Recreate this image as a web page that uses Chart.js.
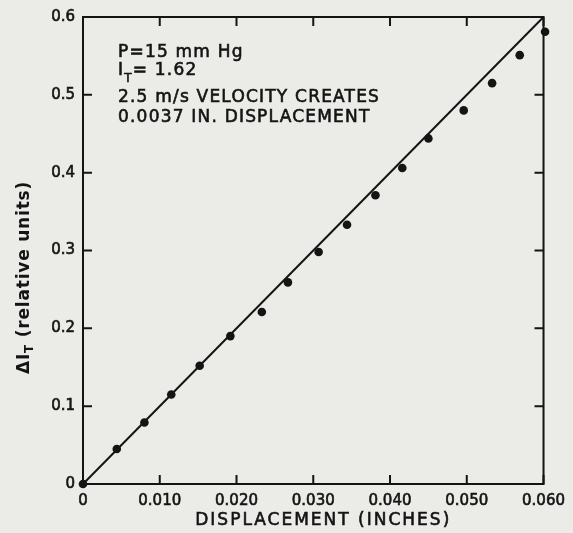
<!DOCTYPE html>
<html>
<head>
<meta charset="utf-8">
<script src="https://cdn.jsdelivr.net/npm/chart.js@4"></script>
<style>
  html, body { margin: 0; padding: 0; background: #ebebe8; }
  #wrap { width: 573px; height: 533px; }
</style>
</head>
<body>
<div id="wrap"><canvas id="c" width="573" height="533"></canvas></div>
<script>
// ---- data ----
const displacement = [0, 0.0044, 0.0080, 0.0115, 0.0152, 0.0192, 0.0233, 0.0267, 0.0307, 0.0344, 0.0381, 0.0416, 0.0450, 0.0496, 0.0533, 0.0569, 0.0602];
const deltaIT = [0, 0.045, 0.079, 0.115, 0.152, 0.190, 0.221, 0.259, 0.298, 0.333, 0.371, 0.406, 0.444, 0.480, 0.515, 0.551, 0.581];
const fitX = [0, 0.060];
const fitY = [0, 0.6];
const xTickLabels = ['0', '0.010', '0.020', '0.030', '0.040', '0.050', '0.060'];
const yTickLabels = ['0', '0.1', '0.2', '0.3', '0.4', '0.5', '0.6'];
const xTitle = 'DISPLACEMENT (INCHES)';
const yTitleMain = 'ΔI';
const yTitleSub = 'T';
const yTitleRest = ' (relative units)';
const noteLine1 = 'P=15 mm Hg';
const noteLine2Main = 'I';
const noteLine2Sub = 'T';
const noteLine2Rest = '= 1.62';
const noteLine3 = '2.5 m/s VELOCITY CREATES';
const noteLine4 = '0.0037 IN. DISPLACEMENT';

const INK = '#141414';
const FONT = '"DejaVu Sans", sans-serif';

const pts = displacement.map((x, i) => ({ x: x, y: deltaIT[i] }));
const fitPts = fitX.map((x, i) => ({ x: x, y: fitY[i] }));

function inkText(ctx, s, x, y, sw) {
  ctx.fillText(s, x, y);
  if (sw) { ctx.lineWidth = sw; ctx.strokeText(s, x, y); }
}

const framePlugin = {
  id: 'frame',
  afterDraw(chart) {
    const ctx = chart.ctx;
    const a = chart.chartArea;
    const xs = chart.scales.x, ys = chart.scales.y;
    ctx.save();
    ctx.strokeStyle = INK;
    ctx.lineWidth = 2;
    ctx.beginPath();
    ctx.rect(a.left, a.top, a.right - a.left, a.bottom - a.top);
    ctx.stroke();
    const tl = 9;
    ctx.beginPath();
    xs.ticks.forEach(t => {
      const px = xs.getPixelForValue(t.value);
      ctx.moveTo(px, a.bottom); ctx.lineTo(px, a.bottom - tl);
      ctx.moveTo(px, a.top); ctx.lineTo(px, a.top + tl);
    });
    ys.ticks.forEach(t => {
      const py = ys.getPixelForValue(t.value);
      ctx.moveTo(a.left, py); ctx.lineTo(a.left + tl, py);
      ctx.moveTo(a.right, py); ctx.lineTo(a.right - tl, py);
    });
    ctx.stroke();

    // annotation block
    ctx.fillStyle = INK;
    ctx.strokeStyle = INK;
    ctx.textBaseline = 'alphabetic';
    ctx.textAlign = 'left';
    const big = '17px ' + FONT;
    const small = '12px ' + FONT;
    const nx = a.left + 35;
    const sw = 0.6;
    ctx.font = big;
    ctx.letterSpacing = '1.2px';
    inkText(ctx, noteLine1, nx, a.top + 40, sw);
    inkText(ctx, noteLine2Main, nx, a.top + 58, sw);
    let w = ctx.measureText(noteLine2Main).width;
    ctx.font = small;
    inkText(ctx, noteLine2Sub, nx + w, a.top + 65, sw);
    const w2 = ctx.measureText(noteLine2Sub).width;
    ctx.font = big;
    inkText(ctx, noteLine2Rest, nx + w + w2, a.top + 58, sw);
    inkText(ctx, noteLine3, nx, a.top + 85, sw);
    inkText(ctx, noteLine4, nx, a.top + 105, sw);

    // x-axis title
    ctx.font = '17px ' + FONT;
    ctx.letterSpacing = '2px';
    ctx.textAlign = 'center';
    inkText(ctx, xTitle, (a.left + a.right) / 2 + 10, 525, sw);

    // y-axis title (with subscript)
    ctx.save();
    ctx.translate(25, a.top + (a.bottom - a.top) / 2 + 27);
    ctx.rotate(-Math.PI / 2);
    ctx.textAlign = 'left';
    ctx.letterSpacing = '0.8px';
    const tf = 'bold 17px ' + FONT;
    const sf = 'bold 12px ' + FONT;
    ctx.font = tf;
    const wm = ctx.measureText(yTitleMain).width;
    const wr = ctx.measureText(yTitleRest).width;
    ctx.font = sf;
    const ws = ctx.measureText(yTitleSub).width;
    const total = wm + ws + wr;
    let x0 = -total / 2;
    ctx.textBaseline = 'middle';
    ctx.font = tf;
    ctx.fillText(yTitleMain, x0, 0);
    ctx.font = sf;
    ctx.fillText(yTitleSub, x0 + wm, 5);
    ctx.font = tf;
    ctx.fillText(yTitleRest, x0 + wm + ws, 0);
    ctx.restore();
    ctx.restore();
  }
};

new Chart(document.getElementById('c'), {
  type: 'scatter',
  data: {
    datasets: [
      {
        data: fitPts,
        showLine: true,
        borderColor: INK,
        borderWidth: 2,
        pointRadius: 0,
        clip: false
      },
      {
        data: pts,
        backgroundColor: INK,
        borderColor: INK,
        pointRadius: 4.3,
        pointBorderWidth: 0,
        clip: false
      }
    ]
  },
  options: {
    responsive: false,
    animation: false,
    devicePixelRatio: 1,
    layout: { padding: { left: 0, right: 24, top: 17, bottom: 0 } },
    plugins: { legend: { display: false }, tooltip: { enabled: false } },
    scales: {
      x: {
        type: 'linear',
        min: 0, max: 0.06,
        grid: { display: false, drawTicks: false },
        border: { display: false },
        ticks: {
          stepSize: 0.01,
          padding: 8,
          color: INK,
          textStrokeColor: INK,
          textStrokeWidth: 0.6,
          font: { family: FONT, size: 15 },
          maxRotation: 0,
          autoSkip: false,
          callback: (v, i) => xTickLabels[i]
        },
        afterFit(s) { s.height = 49; }
      },
      y: {
        type: 'linear',
        min: 0, max: 0.6,
        grid: { display: false, drawTicks: false },
        border: { display: false },
        ticks: {
          stepSize: 0.1,
          padding: 8,
          color: INK,
          textStrokeColor: INK,
          textStrokeWidth: 0.6,
          font: { family: FONT, size: 15 },
          autoSkip: false,
          callback: (v, i) => yTickLabels[i]
        },
        afterFit(s) { s.width = 83; }
      }
    }
  },
  plugins: [framePlugin]
});
</script>
</body>
</html>
